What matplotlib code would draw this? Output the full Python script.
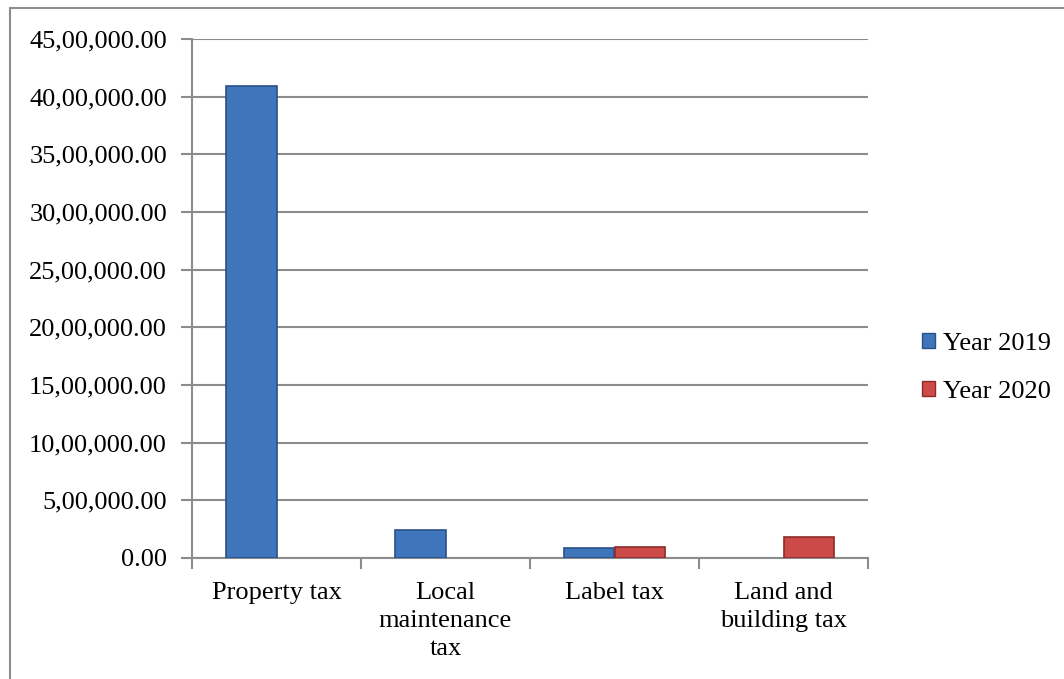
import matplotlib.pyplot as plt
import numpy as np
from matplotlib.patches import Rectangle, Patch
from matplotlib.ticker import FuncFormatter, FixedLocator

categories = ["Property tax", "Local\nmaintenance\ntax", "Label tax", "Land and\nbuilding tax"]
year_2019 = [4090000, 242000, 84000, 0]
year_2020 = [0, 0, 95000, 185000]
series_names = ["Year 2019", "Year 2020"]


def indian_format(v, pos=None):
    # 45,00,000.00 style grouping
    s = "%d" % int(round(v))
    if len(s) > 3:
        head, tail = s[:-3], s[-3:]
        groups = []
        while len(head) > 2:
            groups.insert(0, head[-2:])
            head = head[:-2]
        if head:
            groups.insert(0, head)
        s = ",".join(groups) + "," + tail
    return s + ".00"


plt.rcParams['font.family'] = ['Liberation Serif', 'DejaVu Serif']
plt.rcParams['font.size'] = 19

fig = plt.figure(figsize=(10.64, 6.79), dpi=100)
ax = fig.add_axes([192 / 1064, 1 - 558 / 679, 676 / 1064, 519 / 679])

x = np.arange(len(categories))
w = 0.3
blue, blue_edge = '#3f75ba', '#2a5289'
red, red_edge = '#cc4a47', '#8e2b29'

b1 = ax.bar(x - w / 2, year_2019, w, color=blue, edgecolor=blue_edge, linewidth=1.2, zorder=3)
b2 = ax.bar(x + w / 2, year_2020, w, color=red, edgecolor=red_edge, linewidth=1.2, zorder=3)
# hide empty bars so their edges don't show on the axis
for p in list(b1) + list(b2):
    if p.get_height() == 0:
        p.set_visible(False)

ax.set_xlim(-0.5, len(categories) - 0.5)
ax.set_ylim(0, 4500000)
ax.set_yticks(np.arange(0, 4500001, 500000))
ax.yaxis.set_major_formatter(FuncFormatter(indian_format))
ax.yaxis.grid(True, color='#8c8c8c', linewidth=1.5, zorder=0)

ax.set_xticks(x)
ax.set_xticklabels(categories, linespacing=1.35)
ax.xaxis.set_minor_locator(FixedLocator(np.arange(-0.5, len(categories), 1)))
ax.tick_params(axis='x', which='major', length=0, pad=17)
ax.tick_params(axis='x', which='minor', length=8, width=1.5, color='#8c8c8c')
ax.tick_params(axis='y', length=8, width=1.5, color='#8c8c8c', pad=10)

for side in ['top', 'right']:
    ax.spines[side].set_visible(False)
for side in ['left', 'bottom']:
    ax.spines[side].set_color('#8c8c8c')
    ax.spines[side].set_linewidth(1.5)

handles = [Patch(facecolor=blue, edgecolor=blue_edge, label=series_names[0]),
           Patch(facecolor=red, edgecolor=red_edge, label=series_names[1])]
ax.legend(handles=handles, loc='center left', bbox_to_anchor=(1.045, 0.366), frameon=False,
          handlelength=0.5, handleheight=0.5, handletextpad=0.3, labelspacing=1.0,
          fontsize=19)

# outer chart border
fig.patches.append(Rectangle((10 / 1064, -0.01), 1.0, 1 - 8 / 679 + 0.01,
                             transform=fig.transFigure, fill=False,
                             edgecolor='#8c8c8c', linewidth=1.5))

fig.savefig('out.png', dpi=100)
